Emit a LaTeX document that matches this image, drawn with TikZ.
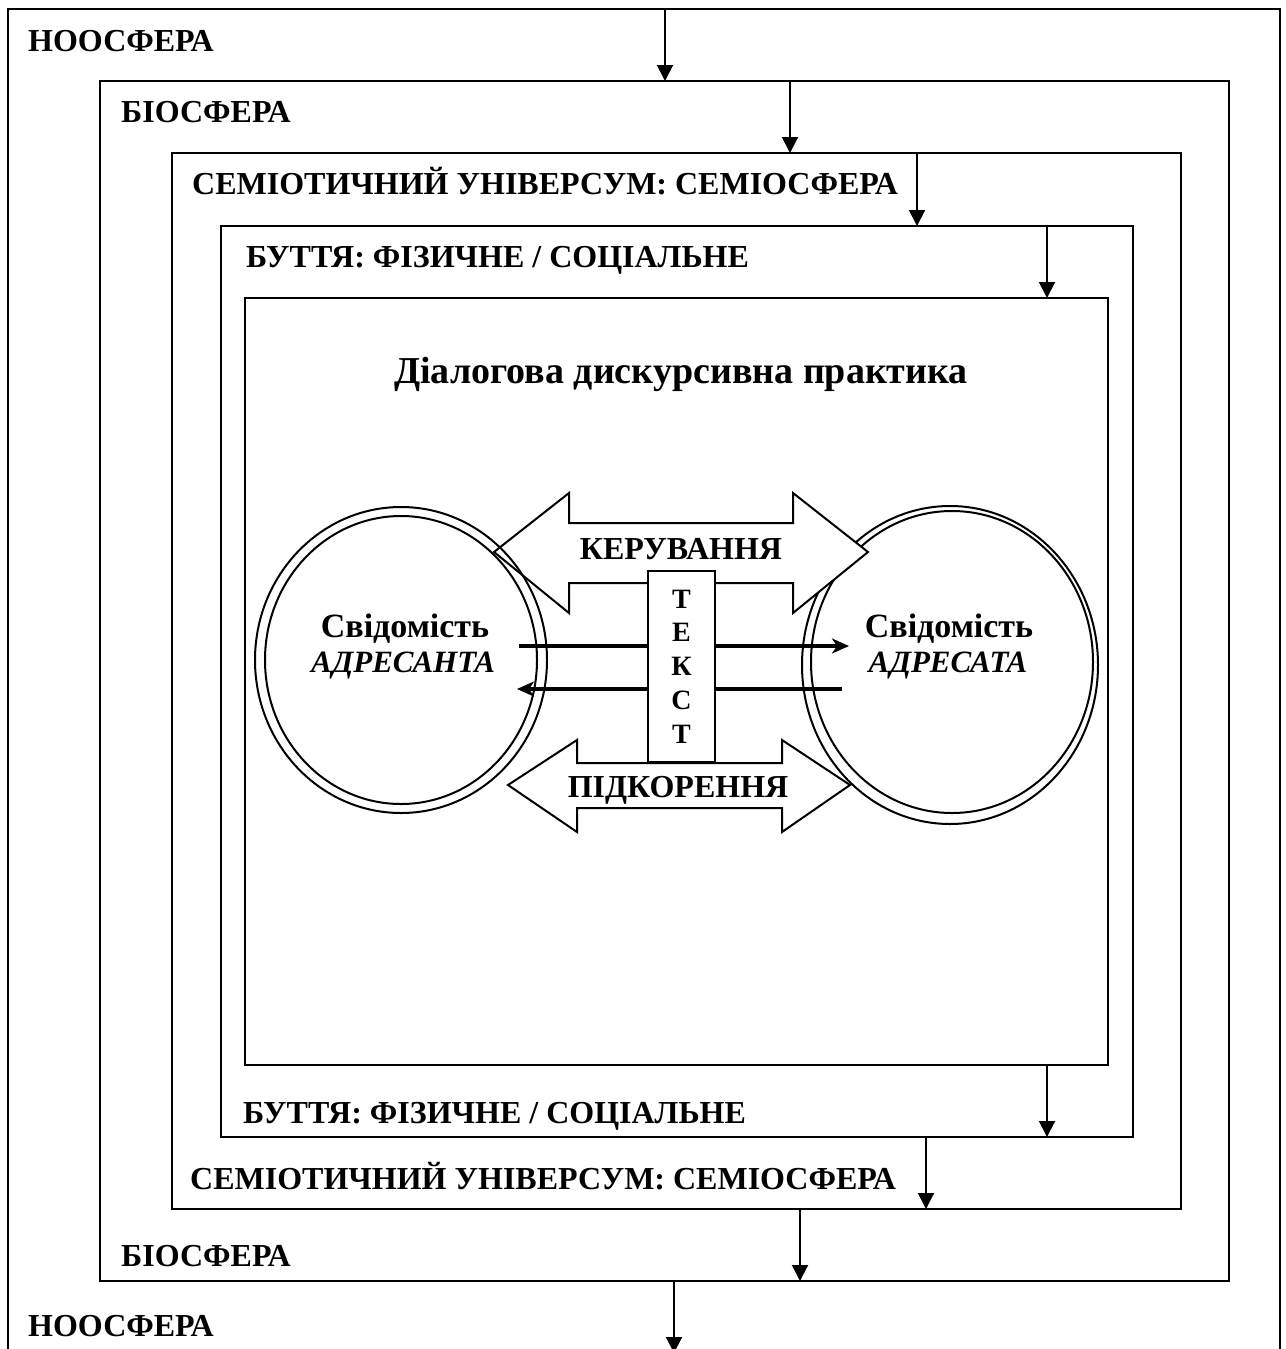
\documentclass[tikz,border=0pt]{standalone}
\usepackage{fontspec}
\setmainfont{Liberation Serif}
\usetikzlibrary{arrows.meta,shapes.geometric}
\begin{document}
\begin{tikzpicture}[x=1pt,y=-1pt,
  frame/.style={draw, line width=2.6pt, rectangle, inner sep=0pt, outer sep=0pt, anchor=north west},
  lbl/.style={anchor=base west, inner sep=0pt, font=\fontsize{32}{38}\selectfont\bfseries},
  down/.style={line width=2pt, -{Triangle[length=16pt,width=16pt]}},
  ring/.style={draw, ellipse, line width=2pt, inner sep=0pt, outer sep=0pt},
  block/.style={draw, line width=2pt, fill=white, line join=miter},
  flow/.style={line width=3.5pt, -{Stealth[length=17pt,width=15pt,inset=5pt]}},
  mind/.style={anchor=base, inner sep=0pt, font=\fontsize{34}{40}\selectfont\bfseries},
  role/.style={anchor=base, inner sep=0pt, font=\fontsize{31}{36}\selectfont\bfseries\itshape},
]
\useasboundingbox (0,0) rectangle (1285,1349);
\fill[white] (0,0) rectangle (1285,1349);

% nested spheres
\node[frame, minimum width=1272pt, minimum height=1420pt] (noo) at (8,9) {};
\node[frame, minimum width=1129pt, minimum height=1200pt] (bio) at (100,81) {};
\node[frame, minimum width=1009pt, minimum height=1056pt] (semio) at (172,153) {};
\node[frame, minimum width=912pt, minimum height=911pt] (being) at (221,226) {};
\node[frame, minimum width=863pt, minimum height=767pt] (prak) at (245,298) {};

% top-down influence arrows
\draw[down] (665,0 |- noo.north) -- (665,0 |- bio.north);
\draw[down] (790,0 |- bio.north) -- (790,0 |- semio.north);
\draw[down] (917,0 |- semio.north) -- (917,0 |- being.north);
\draw[down] (1047,0 |- being.north) -- (1047,0 |- prak.north);
% outward arrows at the bottom
\coordinate (exit) at (674,1353);
\draw[down] (1047,0 |- prak.south) -- (1047,0 |- being.south);
\draw[down] (926,0 |- being.south) -- (926,0 |- semio.south);
\draw[down] (800,0 |- semio.south) -- (800,0 |- bio.south);
\draw[down] (674,0 |- bio.south) -- (exit);

% sphere labels
\node[lbl] (nooT) at (28,51) {НООСФЕРА};
\node[lbl] (bioT) at (121,122) {БІОСФЕРА};
\node[lbl] (semioT) at (192,194) {СЕМІОТИЧНИЙ УНІВЕРСУМ: СЕМІОСФЕРА};
\node[lbl] (beingT) at (246,267) {БУТТЯ: ФІЗИЧНЕ / СОЦІАЛЬНЕ};
\node[lbl] (beingB) at (243,1123) {БУТТЯ: ФІЗИЧНЕ / СОЦІАЛЬНЕ};
\node[lbl] (semioB) at (190,1189) {СЕМІОТИЧНИЙ УНІВЕРСУМ: СЕМІОСФЕРА};
\node[lbl] (bioB) at (121,1266) {БІОСФЕРА};
\node[lbl] (nooB) at (28,1336) {НООСФЕРА};

\node[anchor=base, inner sep=0pt, font=\fontsize{38}{44}\selectfont\bfseries] (title) at (681,383) {Діалогова дискурсивна практика};

% addressee consciousness (drawn below the upper block arrow)
\node[ring, minimum width=296pt, minimum height=318pt] (recvO) at (950,665) {};
\node[ring, minimum width=282pt, minimum height=302pt] (recvI) at (952,662) {};

% block arrows
\draw[block] (494,552) -- (569,493) -- (569,523) -- (793,523) -- (793,493) -- (868,552)
  -- (793,613) -- (793,583) -- (569,583) -- (569,613) -- cycle;
\draw[block] (508,785) -- (577,740) -- (577,763) -- (782,763) -- (782,740) -- (850,785)
  -- (782,832) -- (782,808) -- (577,808) -- (577,832) -- cycle;

% addresser consciousness
\node[ring, minimum width=292pt, minimum height=306pt] (sendO) at (401,660) {};
\node[ring, minimum width=272pt, minimum height=288pt] (sendI) at (401,660) {};

\node[mind] (sendW) at (405,637) {Свідомість};
\node[role] (sendR) at (403,672) {АДРЕСАНТА};
\node[mind] (recvW) at (949,637) {Свідомість};
\node[role] (recvR) at (948,672) {АДРЕСАТА};

% message flows
\coordinate (fwdA) at (519,646);
\coordinate (fwdB) at (849,646);
\coordinate (backA) at (842,689);
\coordinate (backB) at (517,689);
\draw[flow] (fwdA) -- (fwdB);
\draw[flow] (backA) -- (backB);

% the text in between
\node[draw, fill=white, line width=2pt, inner sep=0pt, minimum width=67pt, minimum height=191pt,
  align=center, font=\fontsize{28}{33.7}\selectfont\bfseries] (tekst) at (681.5,666.5) {Т\\Е\\К\\С\\Т};

\node[anchor=base, inner sep=0pt, font=\fontsize{32}{38}\selectfont\bfseries] (ctrl) at (681,559) {КЕРУВАННЯ};
\node[anchor=base, inner sep=0pt, font=\fontsize{32}{38}\selectfont\bfseries] (subm) at (678,797) {ПІДКОРЕННЯ};
\end{tikzpicture}
\end{document}
